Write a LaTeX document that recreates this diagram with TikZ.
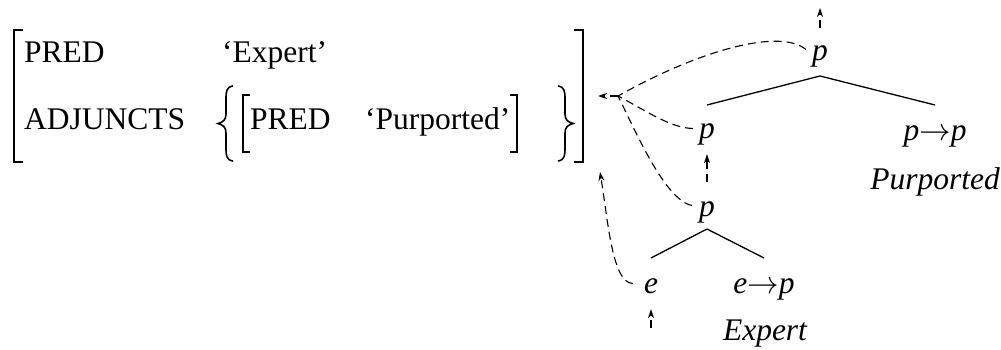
\RequirePackage{fix-cm}
\documentclass[tikz,border=0pt]{standalone}
\usepackage{fontspec}
\setmainfont{Liberation Serif}
\usetikzlibrary{positioning, calc, arrows.meta}
\newcommand{\avmsize}{\fontsize{31.5}{36}\selectfont}

\begin{document}
\begin{tikzpicture}[x=1pt, y=-1pt,
		feat/.style={anchor=base west, inner sep=0pt, font=\avmsize},
		cat/.style={anchor=base, inner sep=0pt, text height=14pt, text depth=7pt, font=\avmsize\itshape},
		word/.style={anchor=base, inner sep=0pt, font=\avmsize\itshape},
		branch/.style={line width=1.3pt},
		outer/.style={line width=2.4pt},
		inner/.style={line width=1.3pt},
		brace/.style={line width=1.6pt},
		link/.style={dash pattern=on 8pt off 5pt, line width=1.1pt},
		arrow/.style={link, -{Stealth[length=9pt, width=6pt]}}]
	\useasboundingbox (0,0) rectangle (1001,350);

	% f-structure
	\node[feat] (pred) at (24,63) {PRED};
	\node[feat] (expert) at (222,63) {‘Expert’};
	\node[feat] (adj) at (24,130) {ADJUNCTS};
	\node[feat] (ipred) at (250,130) {PRED};
	\node[feat] (purp) at (365,130) {‘Purported’};

	\draw[outer] (23,30) -| (14,162) -- (23,162);
	\draw[outer] (574,30) -| (583,162) -- (574,162);
	\draw[inner] (250,95) -| (243,152) -- (250,152);
	\draw[inner] (510,95) -| (517,152) -- (510,152);
	\draw[brace] (233,86) .. controls (226,87) and (226,92) .. (226,100) -- (226,114)
		.. controls (226,120) and (223,122) .. (218,123.5)
		.. controls (223,125) and (226,127) .. (226,133) -- (226,147)
		.. controls (226,155) and (226,160) .. (233,161);
	\draw[brace] (558,86) .. controls (565,87) and (565,92) .. (565,100) -- (565,114)
		.. controls (565,120) and (568,122) .. (573,123.5)
		.. controls (568,125) and (565,127) .. (565,133) -- (565,147)
		.. controls (565,155) and (565,160) .. (558,161);

	% derivation trees
	\node[cat] (p0) at (820,61) {p};
	\node[cat] (p1) at (707,139) {p};
	\node[cat] (f1) at (935,140) {p$\rightarrow$p};
	\node[word] (w1) at (935,189) {Purported};
	\node[cat] (p2) at (707,216) {p};
	\node[cat] (e0) at (651,293) {e};
	\node[cat] (f2) at (764,293) {e$\rightarrow$p};
	\node[word] (w2) at (765,340) {Expert};

	\draw[branch] ([yshift=-15pt]p0.base) -- ([yshift=34pt]p1.base);
	\draw[branch] ([yshift=-15pt]p0.base) -- ([yshift=35pt]f1.base);
	\draw[branch] ([yshift=-13pt]p2.base) -- ([yshift=35pt]e0.base);
	\draw[branch] ([yshift=-13pt]p2.base) -- ([yshift=35pt]f2.base);

	% links into the f-structure
	\coordinate (hub) at (618,96);
	\coordinate (tip) at (598,96);
	\coordinate (low) at (600,172);
	\coordinate (top) at (820,8);
	\coordinate (bot) at (651,328);

	\draw[arrow] (hub) -- (tip);
	\draw[link] ([xshift=-6pt,yshift=8pt]p0.west) .. controls (780,28) and (700,50) .. (hub);
	\draw[link] ([xshift=-6pt,yshift=7pt]p1.west) .. controls (670,128) and (645,110) .. (hub);
	\draw[link] ([xshift=-7pt,yshift=7pt]p2.west) .. controls (665,200) and (636,132) .. (hub);
	\draw[arrow] ([xshift=-11pt,yshift=6pt]e0.west) .. controls (612,283) and (608,220) .. (low);
	\draw[arrow, shorten <=19pt] (p0.north) -- (top);
	\draw[arrow, shorten <=20pt, shorten >=8pt] (p2.north) -- (p1.south);
	\draw[arrow, shorten >=9pt] (bot) -- (e0.south);
\end{tikzpicture}
\end{document}
